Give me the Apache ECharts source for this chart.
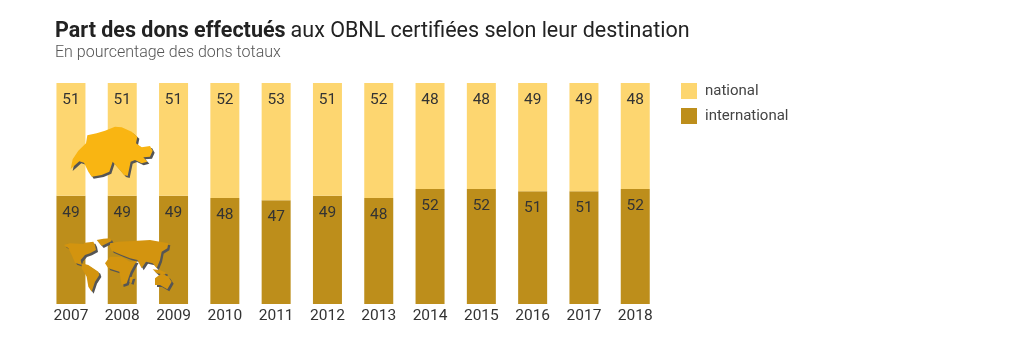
<!DOCTYPE html>
<html><head><meta charset="utf-8">
<style>html,body{margin:0;padding:0;background:#fff}#c{width:1024px;height:353px}</style>
<script src="https://cdn.jsdelivr.net/npm/echarts@6/dist/echarts.min.js"></script>
</head><body><div id="c"></div>
<script>
const years = ['2007','2008','2009','2010','2011','2012','2013','2014','2015','2016','2017','2018'];
const national = [51,51,51,52,53,51,52,48,48,49,49,48];
const international = [49,49,49,48,47,49,48,52,52,51,51,52];
const FONT = 'Roboto, "Noto Sans", sans-serif';

// decorative map silhouettes (pictograms, not data)
const swiss = [[32,147],[38,118],[55,92],[78,70],[82,46],[110,40],[135,32],[165,20],[185,22],[215,35],[232,50],[228,70],[245,82],[270,78],[278,92],[270,110],[250,112],[262,125],[245,130],[225,120],[212,125],[203,168],[192,165],[175,145],[158,125],[148,155],[125,165],[95,170],[85,155],[72,128],[58,124]];
const world = [
 [[12,45],[30,40],[70,42],[75,38],[100,35],[105,45],[108,60],[90,70],[75,75],[62,90],[65,105],[45,98],[35,75],[25,55]],
 [[65,100],[85,105],[115,125],[118,135],[105,155],[95,185],[85,170],[80,140],[65,115]],
 [[110,30],[130,26],[150,25],[155,33],[125,48]],
 [[150,40],[175,35],[220,33],[270,30],[325,40],[322,55],[305,65],[300,90],[290,115],[278,100],[258,95],[245,115],[232,90],[210,85],[185,75],[155,62],[150,50]],
 [[135,100],[150,80],[185,80],[210,95],[230,92],[212,125],[200,160],[185,165],[178,125],[145,115]],
 [[285,145],[305,130],[325,140],[335,155],[322,178],[300,165],[285,165]],
 [[278,118],[300,120],[318,128],[315,134],[290,130]],
 [[210,142],[220,140],[215,158],[208,156]]
];
function mapEls(polys, ox, oy, fill, shadow, dx, dy){
  const els = [];
  polys.forEach(p => els.push({type:'polygon', x:ox+dx, y:oy+dy, scaleX:1/3, scaleY:1/3, z:10, shape:{points:p}, style:{fill:shadow}}));
  polys.forEach(p => els.push({type:'polygon', x:ox, y:oy, scaleX:1/3, scaleY:1/3, z:11, shape:{points:p}, style:{fill:fill}}));
  return els;
}

const chart = echarts.init(document.getElementById('c'), null, {renderer:'canvas'});
const labelStyle = {show:true, position:'insideTop', distance:9, color:'#333', fontFamily:FONT, fontSize:15.5};
chart.setOption({
  backgroundColor:'#fff',
  animation:false,
  title:[{
    left:55, top:21, padding:0,
    text:'{b|Part des dons effectués} {r|aux OBNL certifiées selon leur destination}',
    textStyle:{rich:{
      b:{fontFamily:FONT, fontWeight:700, fontSize:21.5, color:'#222'},
      r:{fontFamily:FONT, fontWeight:400, fontSize:21.5, color:'#222'}
    }}
  },{
    left:55, top:45, padding:0,
    text:'En pourcentage des dons totaux',
    textStyle:{fontFamily:FONT, fontWeight:300, fontSize:16, color:'#555'}
  }],
  legend:{
    left:681, top:83, orient:'vertical', padding:0, itemWidth:16, itemHeight:16, itemGap:9,
    icon:'rect', data:['national','international'],
    textStyle:{fontFamily:FONT, fontSize:15, color:'#444', padding:[2,0,0,3]}
  },
  grid:{left:45.3, top:83, width:615.6, height:221},
  xAxis:{type:'category', data:years, axisLine:{show:false}, axisTick:{show:false},
    axisLabel:{fontFamily:FONT, fontSize:15.5, color:'#333', margin:4, interval:0}},
  yAxis:{type:'value', min:0, max:100, show:false, splitLine:{show:false}},
  series:[
    {name:'international', type:'bar', stack:'t', barWidth:29, data:international, itemStyle:{color:'#BD8E1B'}, label:labelStyle},
    {name:'national', type:'bar', stack:'t', barWidth:29, data:national, itemStyle:{color:'#FDD670'}, label:labelStyle}
  ],
  graphic:{elements:[
    ...mapEls([swiss], 60, 120, '#F9B512', '#555', 2, 2),
    ...mapEls(world, 60, 230, '#D3940F', '#555', 2, 2)
  ]}
});
</script></body></html>
